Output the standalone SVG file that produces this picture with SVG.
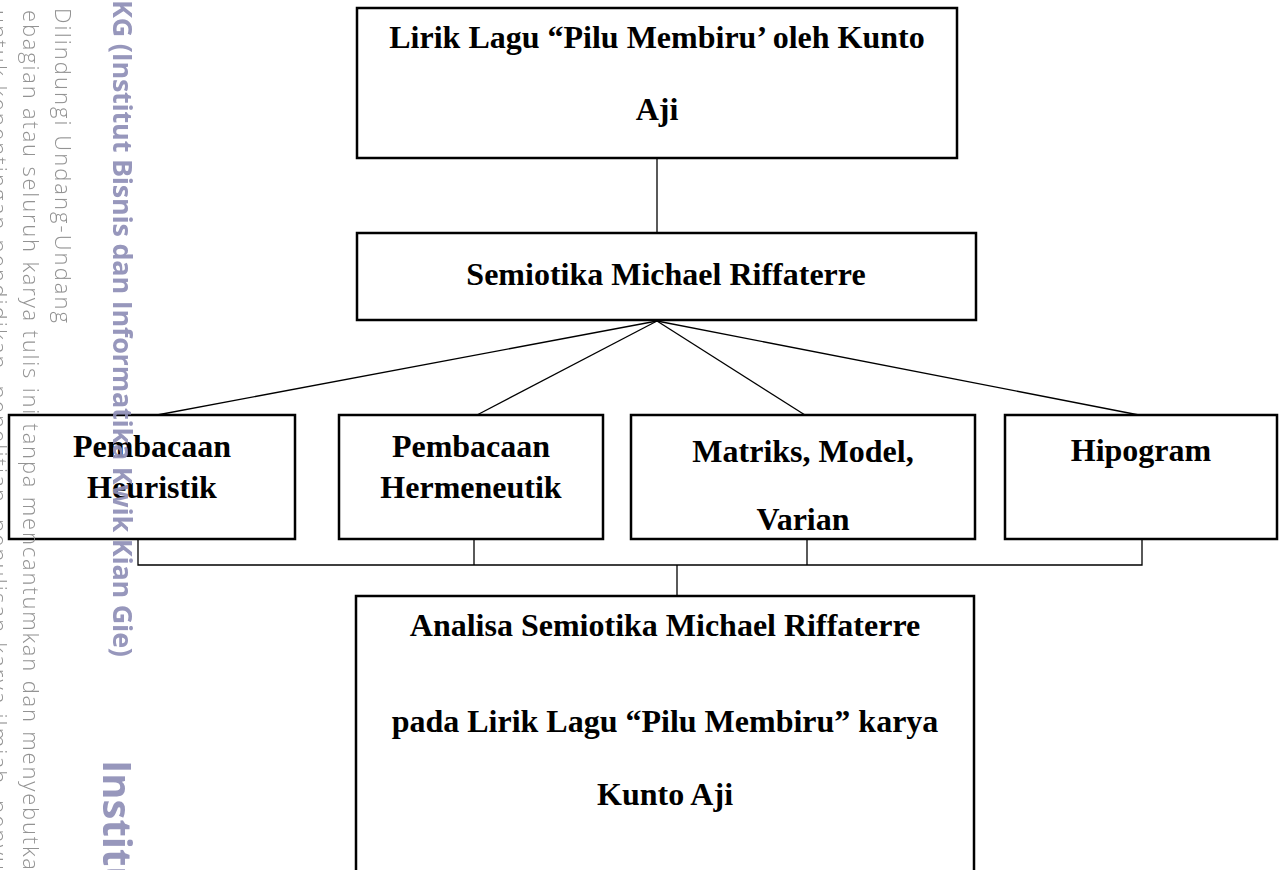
<svg xmlns="http://www.w3.org/2000/svg" width="1284" height="870" viewBox="0 0 1284 870">
<style>
.box{fill:#fff;stroke:#000;stroke-width:2.5}
.conn{stroke:#000;stroke-width:1.3;fill:none}
.lbl{font-family:"Liberation Serif","Times New Roman",serif;font-weight:bold;font-size:32px;text-anchor:middle;fill:#000}
.wmb{font-family:"Open Sans","Noto Sans",sans-serif;font-weight:bold;fill:#8e8eb6}
.wmg{font-family:"Open Sans","Noto Sans",sans-serif;font-weight:300;font-size:22px;fill:#8a8a8a}
</style>
<rect width="1284" height="870" fill="#fff"/>
<g id="connectors">
<line class="conn" x1="657" y1="159" x2="657" y2="233"/>
<line class="conn" x1="657" y1="321" x2="157" y2="415"/>
<line class="conn" x1="657" y1="321" x2="477" y2="415"/>
<line class="conn" x1="657" y1="321" x2="805" y2="415"/>
<line class="conn" x1="657" y1="321" x2="1139" y2="415"/>
<polyline class="conn" points="138,539 138,565 1142,565 1142,539"/>
<line class="conn" x1="474" y1="539" x2="474" y2="565"/>
<line class="conn" x1="807" y1="539" x2="807" y2="565"/>
<line class="conn" x1="677" y1="565" x2="677" y2="596"/>
</g>
<g id="n-lirik">
<rect class="box" x="357" y="8" width="600" height="150"/>
<text class="lbl" x="657" y="48">Lirik Lagu “Pilu Membiru’ oleh Kunto</text>
<text class="lbl" x="657" y="120">Aji</text>
</g>
<g id="n-semiotika">
<rect class="box" x="357" y="233" width="619" height="87"/>
<text class="lbl" x="666" y="285">Semiotika Michael Riffaterre</text>
</g>
<g id="n-heuristik">
<rect class="box" x="9" y="415" width="286" height="124"/>
<text class="lbl" x="152" y="457">Pembacaan</text>
<text class="lbl" x="152" y="498">Heuristik</text>
</g>
<g id="n-hermeneutik">
<rect class="box" x="339" y="415" width="264" height="124"/>
<text class="lbl" x="471" y="457">Pembacaan</text>
<text class="lbl" x="471" y="498">Hermeneutik</text>
</g>
<g id="n-matriks">
<rect class="box" x="631" y="415" width="344" height="124"/>
<text class="lbl" x="803" y="462">Matriks, Model,</text>
<text class="lbl" x="803" y="530">Varian</text>
</g>
<g id="n-hipogram">
<rect class="box" x="1005" y="415" width="272" height="124"/>
<text class="lbl" x="1141" y="461">Hipogram</text>
</g>
<g id="n-analisa">
<rect class="box" x="356" y="596" width="618" height="290"/>
<text class="lbl" x="665" y="636">Analisa Semiotika Michael Riffaterre</text>
<text class="lbl" x="665" y="732">pada Lirik Lagu “Pilu Membiru” karya</text>
<text class="lbl" x="665" y="805">Kunto Aji</text>
</g>
<g id="watermark" opacity="0.92">
<text class="wmb" font-size="27" x="0" y="0" transform="translate(113,0) rotate(90)" textLength="657" lengthAdjust="spacing">KG (Institut Bisnis dan Informatika Kwik Kian Gie)</text>
<text class="wmb" font-size="40" x="760" y="0" transform="translate(103,0) rotate(90)">Institu</text>
<text class="wmg" x="8" y="0" transform="translate(55,0) rotate(90)" textLength="315" lengthAdjust="spacing">Dilindungi Undang-Undang</text>
<text class="wmg" x="10" y="0" transform="translate(23,0) rotate(90)" textLength="860" lengthAdjust="spacing">ebagian atau seluruh karya tulis ini tanpa mencantumkan dan menyebutka</text>
<text class="wmg" x="10" y="0" transform="translate(-9,0) rotate(90)" textLength="860" lengthAdjust="spacing">untuk kepentingan pendidikan, penelitian, penulisan karya ilmiah, penyu</text>
</g>
</svg>
